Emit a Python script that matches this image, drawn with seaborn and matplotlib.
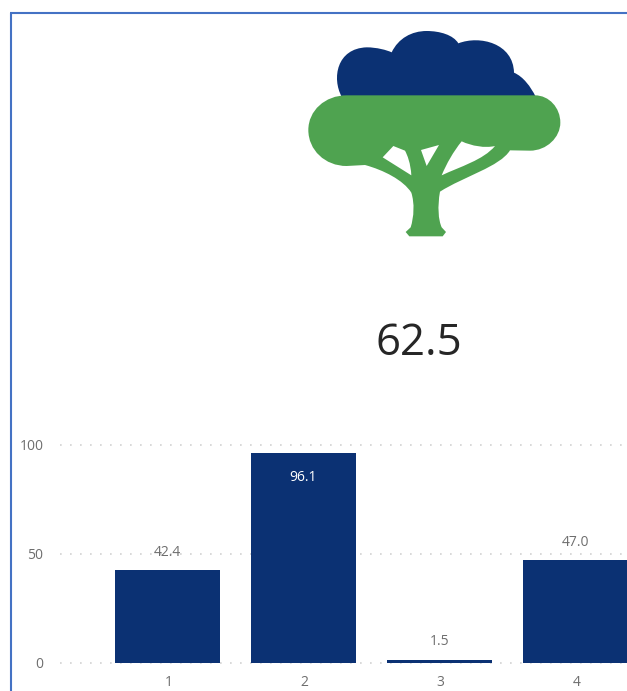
import matplotlib
matplotlib.use("Agg")
import matplotlib.pyplot as plt
from matplotlib.path import Path
from matplotlib.patches import PathPatch
from matplotlib.transforms import ScaledTranslation
import seaborn as sns

# ---- data ----
categories = ["1", "2", "3", "4"]
values = [42.4, 96.1, 1.5, 47.0]
value_labels = ["42.4", "96.1", "1.5", "47.0"]
y_ticks = [0, 50, 100]
kpi_text = "62.5"

NAVY = "#0B3173"
GREEN = "#4FA350"
GREY = "#6E6E6E"
BORDER = "#4472C4"
W, H = 627, 691

sns.set_theme(style="white")
plt.rcParams["font.family"] = ["Open Sans", "DejaVu Sans"]

fig = plt.figure(figsize=(W / 100, H / 100), dpi=100, facecolor="white")

# ---- bar chart: axes placed from the reference's pixel positions ----
left, right, top, bottom = 60, 627, 444.5, 663
ax = fig.add_axes([left / W, 1 - bottom / H, (right - left) / W, (bottom - top) / H])
sns.barplot(x=categories, y=values, order=categories, color=NAVY, saturation=1,
            width=0.77, linewidth=0, ax=ax, zorder=3)
ax.set_xlim((left - 167.3) / 136, (right - 167.3) / 136)
ax.set_ylim(0, 100)
ax.set_yticks(y_ticks)
ax.set_xlabel("")
ax.set_ylabel("")
for s in ax.spines.values():
    s.set_visible(False)
for yt in y_ticks:
    ax.axhline(yt, color="#D2D2D2", lw=1.2, ls=(0, (1, 5)), zorder=1, clip_on=False)
ax.tick_params(axis="x", length=0, pad=9, labelsize=10, labelcolor=GREY)
ax.tick_params(axis="y", length=0, pad=12, labelsize=10, labelcolor=GREY)
ax.patch.set_alpha(0)
shift = ScaledTranslation(1.2 / 100, 0, fig.dpi_scale_trans)
for t in ax.get_xticklabels():
    t.set_transform(t.get_transform() + shift)

for i, (v, lab) in enumerate(zip(values, value_labels)):
    inside = v > 90
    ax.annotate(lab, (i, v), xytext=(0, -17.3 if inside else 12.9),
                textcoords="offset points", ha="center", va="center",
                fontsize=10, color="white" if inside else GREY, zorder=5)

# ---- overlay in pixel coordinates for icon, KPI text and frame ----
ov = fig.add_axes([0, 0, 1, 1], facecolor="none")
ov.set_xlim(0, W)
ov.set_ylim(H, 0)
ov.axis("off")

ov.plot([11, 11], [H, 12.5], color=BORDER, lw=1.5, solid_capstyle="butt")
ov.plot([10.3, W], [12.7, 12.7], color=BORDER, lw=1.5, solid_capstyle="butt")

ov.text(419, 344, kpi_text, ha="center", va="center", fontsize=31.5, color="#262626")


def z(x, y):
    """Icon outline was traced in a 3x crop that starts at (290, 20)."""
    return 290 + x / 3, 20 + y / 3


M, L, C = Path.MOVETO, Path.LINETO, Path.CURVE4
END = Path.CLOSEPOLY


def add_shape(seq, color, zorder):
    p = Path([z(*q) for _, q in seq], [c for c, _ in seq])
    ov.add_patch(PathPatch(p, fc=color, ec="none", zorder=zorder))


add_shape([
    (M, (155, 230)),
    (C, (125, 175)), (C, (140, 85)), (C, (230, 82)),
    (C, (260, 82)), (C, (290, 90)), (C, (305, 97)),
    (C, (325, 55)), (C, (365, 33)), (C, (410, 33)),
    (C, (450, 33)), (C, (490, 45)), (C, (505, 70)),
    (C, (570, 45)), (C, (670, 70)), (C, (672, 158)),
    (C, (700, 170)), (C, (722, 200)), (C, (737, 230)),
    (END, (155, 230)),
], NAVY, 2)

add_shape([
    (M, (170, 226)), (L, (735, 226)),
    (C, (777, 226)), (C, (811, 263)), (C, (811, 308)),
    (C, (811, 352)), (C, (770, 392)), (C, (720, 392)),
    (L, (660, 391)),
    (C, (630, 440)), (C, (520, 470)), (C, (450, 515)),
    (C, (442, 560)), (C, (445, 600)), (C, (455, 622)),
    (L, (468, 636)), (L, (458, 649)), (L, (358, 649)), (L, (347, 636)),
    (L, (362, 622)),
    (C, (372, 590)), (C, (374, 550)), (C, (364, 518)),
    (C, (340, 480)), (C, (280, 450)), (C, (225, 435)),
    (L, (170, 438)),
    (C, (105, 438)), (C, (55, 390)), (C, (55, 330)),
    (C, (55, 272)), (C, (105, 226)), (C, (170, 226)),
    (END, (170, 226)),
], GREEN, 3)

add_shape([(M, (310, 378)), (L, (278, 412)), (L, (364, 466)),
           (C, (362, 430)), (C, (352, 405)), (C, (345, 392)),
           (END, (310, 378))], "white", 4)
add_shape([(M, (393, 390)), (L, (447, 375)), (L, (410, 438)),
           (END, (393, 390))], "white", 4)
add_shape([(M, (515, 364)), (C, (545, 378)), (C, (585, 385)), (C, (615, 378)),
           (C, (580, 420)), (C, (510, 440)), (C, (455, 466)),
           (C, (470, 430)), (C, (490, 395)), (C, (515, 364)),
           (END, (515, 364))], "white", 4)

fig.savefig("out.png", dpi=100, facecolor="white")
